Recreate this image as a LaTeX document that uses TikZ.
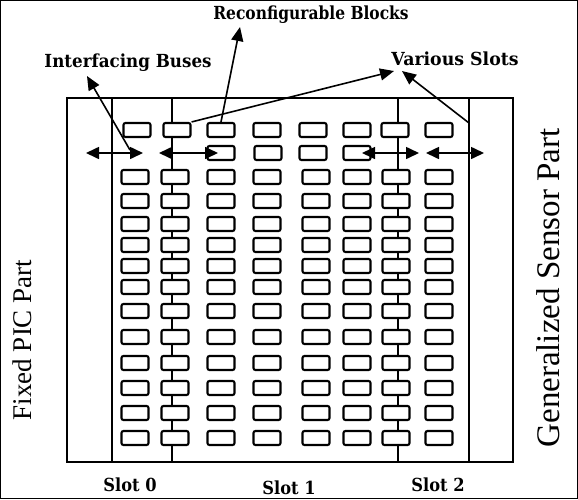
\documentclass[tikz,border=0pt]{standalone}
\usepackage{fontspec}
\setmainfont{Liberation Serif}
\newfontfamily\slabfont{DejaVu Serif}[FakeStretch=0.86]
\usetikzlibrary{arrows.meta}
\tikzset{
  blk/.style={draw, line width=2.1pt, rounded corners=2pt, minimum width=27pt, minimum height=14pt, inner sep=0pt, fill=white},
  frameline/.style={line width=1.6pt},
  dbl/.style={line width=1.6pt, {Triangle[length=13pt,width=12pt]}-{Triangle[length=13pt,width=12pt]}},
  callout/.style={line width=1.6pt, -{Triangle[length=14pt,width=12pt]}},
  lbl/.style={font=\slabfont\bfseries\fontsize{18}{20}\selectfont, inner sep=0pt},
  side/.style={font=\fontsize{27}{30}\selectfont, inner sep=0pt, rotate=90}
}
\begin{document}
\begin{tikzpicture}[x=1pt,y=-1pt]
\useasboundingbox (0,0) rectangle (578,499);
\draw[line width=1.2pt] (0.6,0.6) rectangle (577.4,498.4);
% main frame
\draw[frameline] (67,98) rectangle (513,462);
\coordinate (s0t) at (112,98); \coordinate (s0b) at (112,462);
\coordinate (s2t) at (469,98); \coordinate (s2b) at (469,462);
\coordinate (b0t) at (172,98); \coordinate (b0b) at (172,462);
\coordinate (b1t) at (398,98); \coordinate (b1b) at (398,462);
\draw[frameline] (s0t) -- (s0b);
\draw[frameline] (s2t) -- (s2b);
\draw[frameline] (b0t) -- (b0b);
\draw[frameline] (b1t) -- (b1b);
% blocks row 1
\foreach \c/\x in {1/137,2/177,3/221,4/267,5/313,6/357,7/395,8/439}
  \node[blk] (r1c\c) at (\x,130) {};
% row 2
\foreach \c/\x in {3/221,4/268,5/313,6/357}
  \node[blk] (r2c\c) at (\x,153) {};
% rows 3-14
\foreach \r/\y in {3/177,4/201,5/224,6/245,7/266,8/287,9/311,10/337,11/363,12/388,13/413,14/438}
  \foreach \c/\x in {1/135,2/175,3/221,4/267,5/316,6/357,7/396,8/439}
    \node[blk] (r\r c\c) at (\x,\y) {};
% double arrows
\coordinate (a1l) at (86,153); \coordinate (a1r) at (143,153);
\coordinate (a2l) at (159,153); \coordinate (a2r) at (218,153);
\coordinate (a3l) at (362,153); \coordinate (a3r) at (419,153);
\coordinate (a4l) at (426,153); \coordinate (a4r) at (484,153);
\draw[dbl] (a1l) -- (a1r);
\draw[dbl] (a2l) -- (a2r);
\draw[dbl] (a3l) -- (a3r);
\draw[dbl] (a4l) -- (a4r);
% labels
\node[lbl] (ib) at (128,63) {\scalebox{1.08}[1]{Interfacing Buses}};
\node[lbl] (rb) at (311,15) {Reconfigurable Blocks};
\node[lbl] (vs) at (455,59) {\scalebox{1.12}[1]{Various Slots}};
\node[lbl] (sl0) at (130,485) {\scalebox{1.05}[1]{Slot 0}};
\node[lbl] (sl1) at (289,488) {\scalebox{1.05}[1]{Slot 1}};
\node[lbl] (sl2) at (438,485) {\scalebox{1.05}[1]{Slot 2}};
\node[side] (fp) at (22,340) {Fixed PIC Part};
\node[side, font=\fontsize{33}{36}\selectfont] (gs) at (548,288) {Generalized Sensor Part};
% callouts
\coordinate (ibs) at (130,150); \coordinate (ibe) at (87,76);
\coordinate (rbe) at (240,27);
\coordinate (vse1) at (394,71); \coordinate (vse2) at (402,71);
\coordinate (vss2) at (469,123);
\draw[callout] (ibs) -- (ibe);
\draw[callout] (r1c3.north) -- (rbe);
\draw[callout] (r1c2.north east) -- (vse1);
\draw[callout] (vss2) -- (vse2);
\end{tikzpicture}
\end{document}
